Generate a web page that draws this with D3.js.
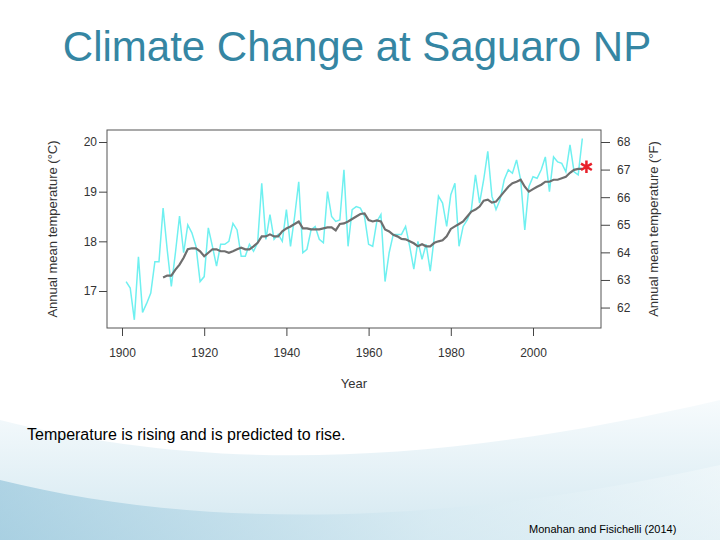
<!DOCTYPE html>
<html><head><meta charset="utf-8">
<script src="https://cdn.jsdelivr.net/npm/d3@7"></script>
<style>body{margin:0;background:#fff}svg{display:block}</style>
</head><body>
<script>
var annualYears = d3.range(1901, 2013);
var annualTemp = [17.19,17.06,16.42,17.69,16.57,16.75,16.96,17.59,17.59,18.67,
  17.83,17.09,17.77,18.51,17.77,18.33,18.17,17.9,17.19,17.29,
  18.27,17.9,17.5,17.94,17.94,18.0,18.36,18.23,17.7,17.7,
  17.94,17.8,17.97,19.17,18.04,18.54,18.04,18.14,18.0,18.64,
  17.9,18.5,19.2,17.77,17.84,18.23,18.3,18.04,17.97,19.0,
  18.5,18.4,18.43,19.44,17.9,18.64,18.7,18.67,18.5,17.94,
  17.9,18.4,18.54,17.19,17.77,18.14,18.14,18.14,18.3,17.9,
  17.44,18.0,17.64,17.94,17.4,18.1,18.91,18.77,18.3,18.94,
  19.17,17.9,18.3,18.43,18.64,19.34,18.77,19.24,19.81,18.91,
  18.64,18.84,19.24,19.44,19.37,19.64,19.24,18.23,19.1,19.3,
  19.27,19.44,19.7,19.0,19.7,19.6,19.57,19.4,19.94,19.4,
  19.34,20.07];
var smoothYears = d3.range(1910, 2013);
var smoothTemp = [17.27,17.31,17.31,17.43,17.53,17.67,17.84,17.86,17.86,17.8,
  17.7,17.77,17.84,17.84,17.8,17.8,17.77,17.8,17.84,17.87,
  17.84,17.84,17.9,17.97,18.1,18.1,18.14,18.1,18.1,18.2,
  18.26,18.3,18.35,18.4,18.26,18.26,18.24,18.24,18.24,18.26,
  18.28,18.28,18.22,18.35,18.36,18.4,18.45,18.5,18.55,18.56,
  18.43,18.4,18.42,18.4,18.24,18.2,18.13,18.1,18.05,18.04,
  18.0,17.96,17.9,17.94,17.9,17.9,17.97,18.0,18.02,18.1,
  18.25,18.3,18.35,18.4,18.5,18.6,18.64,18.7,18.82,18.84,
  18.78,18.8,18.9,19.0,19.1,19.17,19.2,19.24,19.1,19.0,
  19.05,19.1,19.14,19.2,19.2,19.24,19.24,19.27,19.3,19.38,
  19.44,19.46,19.46];
var projYear = 2013, projTemp = 19.5;
var xTicks = [1900,1920,1940,1960,1980,2000];
var cTicks = [17,18,19,20];
var fTicks = [62,63,64,65,66,67,68];

var W = 720, H = 540;
var svg = d3.select("body").append("svg").attr("width", W).attr("height", H);
var defs = svg.append("defs");
var g1 = defs.append("linearGradient").attr("id","wave").attr("x1",0).attr("y1",0).attr("x2",0).attr("y2",1);
g1.append("stop").attr("offset",0).attr("stop-color","#f1f8fb");
g1.append("stop").attr("offset",1).attr("stop-color","#b7d9e7");
var g2 = defs.append("linearGradient").attr("id","wave2").attr("x1",0).attr("y1",0).attr("x2",1).attr("y2",0);
g2.append("stop").attr("offset",0).attr("stop-color","#8cc0d8");
g2.append("stop").attr("offset",0.6).attr("stop-color","#d6eaf2");
g2.append("stop").attr("offset",1).attr("stop-color","#f3f9fb");

// background waves
svg.append("path").attr("fill","url(#wave)").attr("opacity",0.6)
  .attr("d","M0,420 C200,470 420,470 720,400 L720,540 L0,540 Z");
svg.append("path").attr("fill","url(#wave2)").attr("opacity",0.6)
  .attr("d","M0,480 C180,525 420,532 720,465 L720,540 L0,540 Z");

svg.append("text").attr("x",357).attr("y",61).attr("text-anchor","middle")
  .attr("font-family","Liberation Sans, Arial, sans-serif").attr("font-size",42)
  .attr("fill","#3586a3").text("Climate Change at Saguaro NP");

// chart panel
svg.append("rect").attr("x",18).attr("y",95).attr("width",684).attr("height",303).attr("fill","#fff");

var x = d3.scaleLinear().domain([1900,2000]).range([122,533]);
var yC = d3.scaleLinear().domain([17,20]).range([291,142]);
var yF = d3.scaleLinear().domain([62,68]).range([yC((62-32)/1.8), yC((68-32)/1.8)]);

var font = "Liberation Sans, Arial, sans-serif";
svg.append("rect").attr("x",107).attr("y",130).attr("width",494).attr("height",198)
  .attr("fill","none").attr("stroke","#555").attr("stroke-width",1);

function styleAxis(sel){
  sel.selectAll("path").remove();
  sel.selectAll("line").attr("stroke","#444");
  sel.selectAll("text").attr("font-family",font).attr("font-size",12).attr("fill","#333");
}
svg.append("g").attr("transform","translate(0,336)")
  .call(d3.axisBottom(x).tickValues(xTicks).tickFormat(d3.format("d")).tickSizeInner(-8).tickSizeOuter(0).tickPadding(12))
  .call(styleAxis);
svg.append("g").attr("transform","translate(99,0)")
  .call(d3.axisLeft(yC).tickValues(cTicks).tickFormat(d3.format("d")).tickSizeInner(-8).tickPadding(2))
  .call(styleAxis);
svg.append("g").attr("transform","translate(601,0)")
  .call(d3.axisRight(yF).tickValues(fTicks).tickFormat(d3.format("d")).tickSize(9).tickPadding(7))
  .call(styleAxis);

svg.append("text").attr("x",354).attr("y",388).attr("text-anchor","middle")
  .attr("font-family",font).attr("font-size",13).attr("fill","#333").text("Year");
svg.append("text").attr("transform","translate(57,229) rotate(-90)").attr("text-anchor","middle")
  .attr("font-family",font).attr("font-size",13).attr("fill","#333").text("Annual mean temperature (°C)");
svg.append("text").attr("transform","translate(658,229) rotate(-90)").attr("text-anchor","middle")
  .attr("font-family",font).attr("font-size",13).attr("fill","#333").text("Annual mean temperature (°F)");

var line = d3.line().x(function(d){return x(d[0]);}).y(function(d){return yC(d[1]);});
svg.append("path").datum(d3.zip(annualYears, annualTemp)).attr("d", line)
  .attr("fill","none").attr("stroke","#6ff0f0").attr("stroke-width",1.5);
svg.append("path").datum(d3.zip(smoothYears, smoothTemp)).attr("d", line)
  .attr("fill","none").attr("stroke","#6e6e6e").attr("stroke-width",2.2);
svg.append("path").attr("d", d3.symbol(d3.symbolAsterisk, 110)())
  .attr("transform","translate("+x(projYear)+","+yC(projTemp)+")")
  .attr("fill","none").attr("stroke","#e8202a").attr("stroke-width",2.5);

svg.append("text").attr("x",27).attr("y",440).attr("font-family",font).attr("font-size",16)
  .attr("fill","#000").text("Temperature is rising and is predicted to rise.");
svg.append("text").attr("x",529).attr("y",533).attr("font-family",font).attr("font-size",11)
  .attr("fill","#000").text("Monahan and Fisichelli (2014)");
</script>
</body></html>
